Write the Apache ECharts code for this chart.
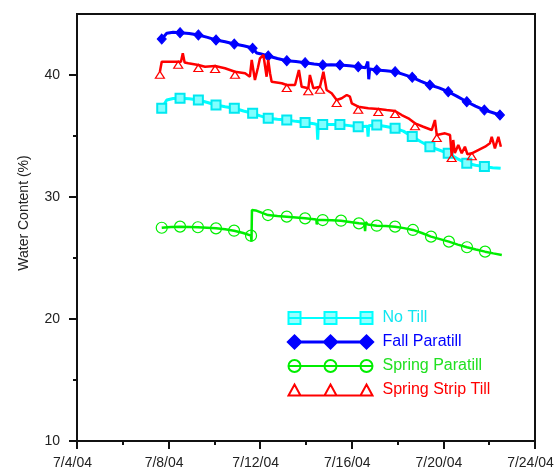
<!DOCTYPE html>
<html>
<head>
<meta charset="utf-8">
<script src="https://cdn.jsdelivr.net/npm/echarts@6/dist/echarts.min.js"></script>
<style>
  html, body { margin: 0; padding: 0; background: #fff; }
  #chart { width: 556px; height: 475px; }
</style>
</head>
<body>
<div id="chart"></div>
<script>
// ---- data (x = day of July 2004, y = water content %) ----
const seriesNames = ['No Till', 'Fall Paratill', 'Spring Paratill', 'Spring Strip Till'];
const xTicks = [4, 8, 12, 16, 20, 24];
const yTicks = [10, 20, 30, 40];

const noTill = [
  [7.70,37.27],[7.92,37.95],[8.20,38.08],[8.50,38.09],[8.90,38.05],[9.30,37.95],[9.70,37.75],
  [10.07,37.54],[10.47,37.40],[10.87,37.27],[11.27,37.05],[11.67,36.86],[12.00,36.65],[12.35,36.45],
  [12.75,36.38],[13.16,36.31],[13.56,36.20],[13.96,36.11],[14.35,36.00],[14.48,35.95],[14.51,34.70],
  [14.54,35.95],[14.73,35.94],[15.10,35.95],[15.48,35.94],[15.90,35.85],[16.28,35.76],[16.68,35.80],
  [16.71,34.95],[16.74,35.85],[17.09,35.90],[17.49,35.78],[17.89,35.63],[18.25,35.40],[18.64,34.95],
  [19.00,34.55],[19.41,34.12],[19.81,33.85],[20.21,33.58],[20.60,33.15],[21.02,32.76],[21.40,32.60],
  [21.79,32.49],[22.15,32.40],[22.50,32.35]
];
const noTillMarks = [7.70,8.50,9.30,10.07,10.87,11.67,12.35,13.16,13.96,14.73,15.48,16.28,17.09,17.89,18.64,19.41,20.21,21.02,21.79];

const fallParatill = [
  [7.70,42.95],[7.92,43.42],[8.20,43.50],[8.50,43.47],[8.90,43.40],[9.30,43.28],[9.70,43.08],
  [10.07,42.87],[10.47,42.72],[10.87,42.54],[11.27,42.40],[11.50,42.30],[11.67,42.19],[11.85,41.80],
  [12.00,41.75],[12.35,41.56],[12.75,41.35],[13.16,41.17],[13.56,41.10],[13.96,41.01],[14.35,40.90],
  [14.73,40.82],[15.10,40.85],[15.48,40.82],[15.90,40.75],[16.28,40.68],[16.60,40.60],[16.70,41.10],
  [16.74,39.65],[16.78,40.50],[17.09,40.41],[17.49,40.35],[17.89,40.27],[18.25,40.05],[18.64,39.81],
  [19.00,39.50],[19.41,39.18],[19.81,38.95],[20.21,38.63],[20.60,38.25],[21.02,37.81],[21.40,37.45],
  [21.79,37.13],[22.10,36.95],[22.47,36.72]
];
const fallParatillMarks = [7.70,8.50,9.30,10.07,10.87,11.67,12.35,13.16,13.96,14.73,15.48,16.28,17.09,17.89,18.64,19.41,20.21,21.02,21.79,22.47];

const springParatill = [
  [7.70,27.48],[8.10,27.55],[8.50,27.57],[8.90,27.55],[9.28,27.52],[9.68,27.48],[10.07,27.43],
  [10.47,27.35],[10.86,27.24],[11.26,27.05],[11.60,26.83],[11.62,26.34],[11.64,28.93],[11.80,28.90],
  [12.34,28.52],[12.75,28.45],[13.16,28.39],[13.56,28.32],[13.96,28.25],[14.35,28.18],[14.45,28.15],
  [14.47,27.75],[14.50,28.12],[14.73,28.11],[15.13,28.09],[15.53,28.06],[15.92,27.95],[16.31,27.84],
  [16.55,27.80],[16.58,27.20],[16.61,27.95],[16.70,27.75],[17.09,27.65],[17.49,27.62],[17.89,27.57],
  [18.28,27.45],[18.67,27.30],[19.06,27.05],[19.46,26.75],[19.85,26.55],[20.24,26.34],[20.63,26.10],
  [21.03,25.88],[21.42,25.70],[21.82,25.52],[22.18,25.38],[22.55,25.25]
];
const springParatillMarks = [7.70,8.50,9.28,10.07,10.86,11.60,12.34,13.16,13.96,14.73,15.53,16.31,17.09,17.89,18.67,19.46,20.24,21.03,21.82];

const springStripTill = [
  [7.62,40.27],[7.70,41.09],[8.42,41.09],[8.54,41.09],[8.62,41.78],[8.70,41.02],[8.86,40.96],
  [9.30,40.82],[9.59,40.68],[10.03,40.74],[10.46,40.55],[10.90,40.27],[11.34,40.14],[11.55,39.86],
  [11.63,41.23],[11.77,39.59],[11.90,40.60],[11.99,41.37],[12.14,41.64],[12.21,41.78],[12.28,39.86],
  [12.35,41.23],[12.43,40.14],[12.50,39.45],[12.94,39.32],[13.16,39.18],[13.52,39.18],[13.69,40.41],
  [13.81,39.04],[14.10,38.91],[14.17,40.00],[14.32,38.91],[14.61,39.04],[14.76,40.27],[14.83,40.41],
  [14.90,38.77],[15.12,38.50],[15.34,37.95],[15.56,38.09],[15.78,38.36],[15.92,38.22],[16.00,37.68],
  [16.28,37.40],[16.72,37.27],[17.16,37.21],[17.52,37.13],[17.89,37.05],[18.18,36.72],[18.47,36.45],
  [18.76,36.04],[19.12,35.76],[19.49,35.49],[19.63,36.31],[19.71,35.08],[20.07,35.22],[20.29,35.08],
  [20.36,33.44],[20.43,34.67],[20.50,33.60],[20.65,34.26],[20.80,33.58],[20.94,34.12],[21.05,33.50],
  [21.24,33.58],[21.52,33.85],[21.82,34.12],[22.03,34.40],[22.11,34.94],[22.25,33.99],[22.40,34.94],
  [22.51,34.12]
];
const springStripTillMarks = [7.62,8.42,9.30,10.03,10.90,13.16,14.10,14.61,15.34,16.28,17.16,17.89,18.76,19.71,20.36,21.24];

// ---- styling ----
const FONT = '"Liberation Sans", Arial, sans-serif';
const C_CYAN = '#00ffff', C_BLUE = '#0000ff', C_GREEN = '#00ee00', C_RED = '#ff0000';

function markSymbol(marks, shape) {
  return function (val) { return marks.indexOf(val[0]) >= 0 ? shape : 'none'; };
}

const iconSquares = 'path://M0 6L84 6M0 0L12 0L12 12L0 12ZM36 0L48 0L48 12L36 12ZM72 0L84 0L84 12L72 12Z';
const iconDiamonds = 'path://M0 6L84 6M6 0L12 6L6 12L0 6ZM42 0L48 6L42 12L36 6ZM78 0L84 6L78 12L72 6Z';
const iconCircles = 'path://M0 6L84 6M0 6A6 6 0 1 1 12 6A6 6 0 1 1 0 6ZM36 6A6 6 0 1 1 48 6A6 6 0 1 1 36 6ZM72 6A6 6 0 1 1 84 6A6 6 0 1 1 72 6Z';
const iconTriangles = 'path://M0 11L84 11M6 0L12 11L0 11ZM42 0L48 11L36 11ZM78 0L84 11L72 11Z';

const chart = echarts.init(document.getElementById('chart'), null, { renderer: 'canvas' });

const yBase = {
  type: 'value', min: 10, max: 45, interval: 5, position: 'left',
  splitLine: { show: false }
};

const option = {
  backgroundColor: '#fff',
  animation: false,
  grid: {
    left: 77, right: 21, top: 14, bottom: 34,
    show: true, borderColor: '#111', borderWidth: 2, backgroundColor: 'transparent',
    outerBoundsMode: 'none'
  },
  legend: {
    orient: 'vertical', left: 282, top: 305,
    itemWidth: 84, itemHeight: 12, itemGap: 8,
    selectedMode: false,
    textStyle: { fontFamily: FONT, fontSize: 16, padding: [0, 0, 0, 5] },
    data: [
      { name: seriesNames[0], icon: iconSquares,
        itemStyle: { color: '#99ffff', borderColor: C_CYAN, borderWidth: 2 }, textStyle: { color: '#10e6f0' } },
      { name: seriesNames[1], icon: iconDiamonds,
        itemStyle: { color: C_BLUE, borderColor: C_BLUE, borderWidth: 3 }, textStyle: { color: C_BLUE } },
      { name: seriesNames[2], icon: iconCircles,
        itemStyle: { color: 'rgba(0,0,0,0)', borderColor: C_GREEN, borderWidth: 2 }, textStyle: { color: '#22e022' } },
      { name: seriesNames[3], icon: iconTriangles,
        itemStyle: { color: 'rgba(0,0,0,0)', borderColor: C_RED, borderWidth: 2 }, textStyle: { color: C_RED } }
    ]
  },
  xAxis: {
    type: 'value', min: 4, max: 24, interval: 4,
    axisLine: { show: true, onZero: false, lineStyle: { color: '#111', width: 2 } },
    axisTick: { show: true, length: 8, lineStyle: { color: '#111', width: 2 } },
    minorTick: { show: true, splitNumber: 2, length: 4, lineStyle: { color: '#111', width: 2 } },
    splitLine: { show: false },
    axisLabel: {
      margin: 15, fontFamily: FONT, fontSize: 14, color: '#222',
      padding: [0, 9, 0, 0],
      customValues: xTicks,
      formatter: function (v) { return '7/' + v + '/04'; }
    }
  },
  yAxis: [
    Object.assign({}, yBase, {
      name: 'Water Content (%)', nameLocation: 'middle', nameGap: 46,
      nameTextStyle: { fontFamily: FONT, fontSize: 14, color: '#222', padding: [0, 0, 0, 29] },
      axisLine: { show: true, onZero: false, lineStyle: { color: '#111', width: 2 } },
      axisTick: { show: true, length: 8, customValues: yTicks, lineStyle: { color: '#111', width: 2 } },
      axisLabel: { margin: 17, fontFamily: FONT, fontSize: 14, color: '#222', customValues: yTicks }
    }),
    Object.assign({}, yBase, {
      axisLine: { show: false },
      axisTick: { show: true, length: 4, customValues: [15, 25, 35], lineStyle: { color: '#111', width: 2 } },
      axisLabel: { show: false }
    })
  ],
  series: [
    {
      name: seriesNames[0], type: 'line', data: noTill, yAxisIndex: 0,
      symbol: markSymbol(noTillMarks, 'rect'), symbolSize: 9,
      lineStyle: { color: C_CYAN, width: 3 },
      itemStyle: { color: '#80ffff', borderColor: '#00e8f0', borderWidth: 2 }, z: 2
    },
    {
      name: seriesNames[1], type: 'line', data: fallParatill, yAxisIndex: 0,
      symbol: markSymbol(fallParatillMarks, 'diamond'), symbolSize: [9, 10],
      lineStyle: { color: C_BLUE, width: 3 },
      itemStyle: { color: C_BLUE, borderColor: C_BLUE, borderWidth: 1 }, z: 3
    },
    {
      name: seriesNames[2], type: 'line', data: springParatill, yAxisIndex: 0,
      symbol: markSymbol(springParatillMarks, 'circle'), symbolSize: 11,
      lineStyle: { color: C_GREEN, width: 2.5 },
      itemStyle: { color: 'rgba(0,0,0,0)', borderColor: C_GREEN, borderWidth: 1.2 }, z: 2
    },
    {
      name: seriesNames[3], type: 'line', data: springStripTill, yAxisIndex: 0,
      symbol: markSymbol(springStripTillMarks, 'triangle'), symbolSize: [9, 7], symbolOffset: [0, 3],
      lineStyle: { color: C_RED, width: 2.5 },
      itemStyle: { color: 'rgba(0,0,0,0)', borderColor: C_RED, borderWidth: 1.2 }, z: 4
    }
  ]
};
chart.setOption(option);
</script>
</body>
</html>
